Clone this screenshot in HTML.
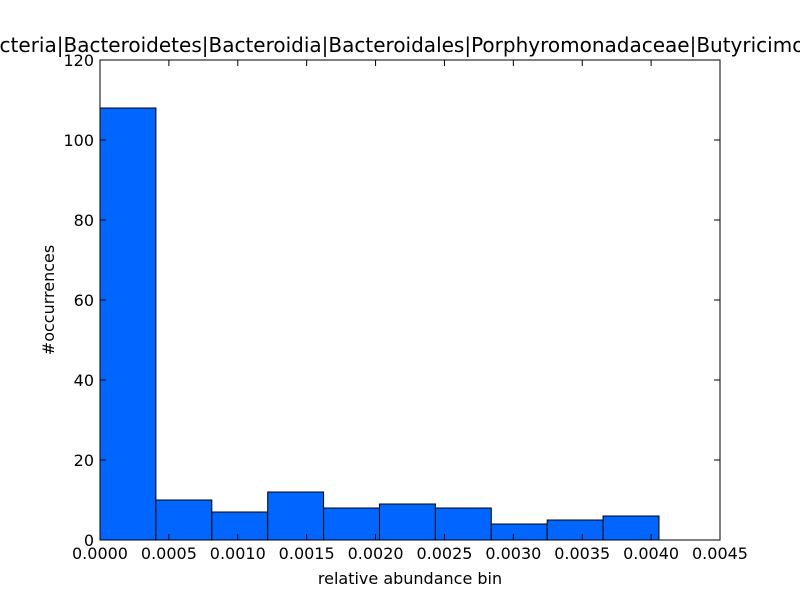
<!DOCTYPE html>
<html><head><meta charset="utf-8"><style>
html,body{margin:0;padding:0;background:#fff;}
svg{display:block;font-family:"DejaVu Sans","Liberation Sans",sans-serif;}
</style></head><body>
<svg id="chart" width="800" height="600" viewBox="0 0 800 600">
<rect x="0" y="0" width="800" height="600" fill="#fff"/>
<text x="-58" y="52" font-size="20" text-anchor="start">k__Bacteria|Bacteroidetes|Bacteroidia|Bacteroidales|Porphyromonadaceae|Butyricimonas</text>
<g id="bars"></g>
<g id="ticks"></g>
<rect x="100" y="60" width="620" height="480" fill="none" stroke="#000" stroke-width="1"/>
<text x="410" y="584" font-size="16" text-anchor="middle">relative abundance bin</text>
<text transform="translate(54,300) rotate(-90)" font-size="16" text-anchor="middle">#occurrences</text>
</svg>
<script>
const counts = [108, 10, 7, 12, 8, 9, 8, 4, 5, 6];
const binStart = 0;
const binWidth = 0.0004057;
const xTicks = [0, 0.0005, 0.001, 0.0015, 0.002, 0.0025, 0.003, 0.0035, 0.004, 0.0045];
const xTickLabels = ["0.0000","0.0005","0.0010","0.0015","0.0020","0.0025","0.0030","0.0035","0.0040","0.0045"];
const yTicks = [0, 20, 40, 60, 80, 100, 120];

const NS = "http://www.w3.org/2000/svg";
const X0 = 100, X1 = 720, Y0 = 540, Y1 = 60;
const xMax = 0.0045, yMax = 120;
const xs = v => X0 + v / xMax * (X1 - X0);
const ys = v => Y0 - v / yMax * (Y0 - Y1);
function mk(tag, attrs, parent) {
  const e = document.createElementNS(NS, tag);
  for (const k in attrs) e.setAttribute(k, attrs[k]);
  parent.appendChild(e);
  return e;
}
const bars = document.getElementById('bars');
counts.forEach((c, i) => {
  const a = binStart + i * binWidth, b = a + binWidth;
  const r = mk('rect', {x: xs(a), y: ys(c), width: xs(b) - xs(a), height: ys(0) - ys(c), fill: '#0066ff', stroke: '#000', 'stroke-width': 1}, bars);
  
  
});
const tg = document.getElementById('ticks');
xTicks.forEach((t, i) => {
  const x = xs(t);
  mk('line', {x1: x, x2: x, y1: Y0, y2: Y0 - 6, stroke: '#000'}, tg);
  mk('line', {x1: x, x2: x, y1: Y1, y2: Y1 + 6, stroke: '#000'}, tg);
  const tx = mk('text', {x: x, y: Y0 + 19, 'font-size': 16, 'text-anchor': 'middle'}, tg);
  tx.textContent = xTickLabels[i];
  
  
});
yTicks.forEach(t => {
  const y = ys(t);
  mk('line', {x1: X0, x2: X0 + 6, y1: y, y2: y, stroke: '#000'}, tg);
  mk('line', {x1: X1, x2: X1 - 6, y1: y, y2: y, stroke: '#000'}, tg);
  const tx = mk('text', {x: X0 - 6, y: y + 6, 'font-size': 16, 'text-anchor': 'end'}, tg);
  tx.textContent = String(t);
  
  
});
</script>
</body></html>
